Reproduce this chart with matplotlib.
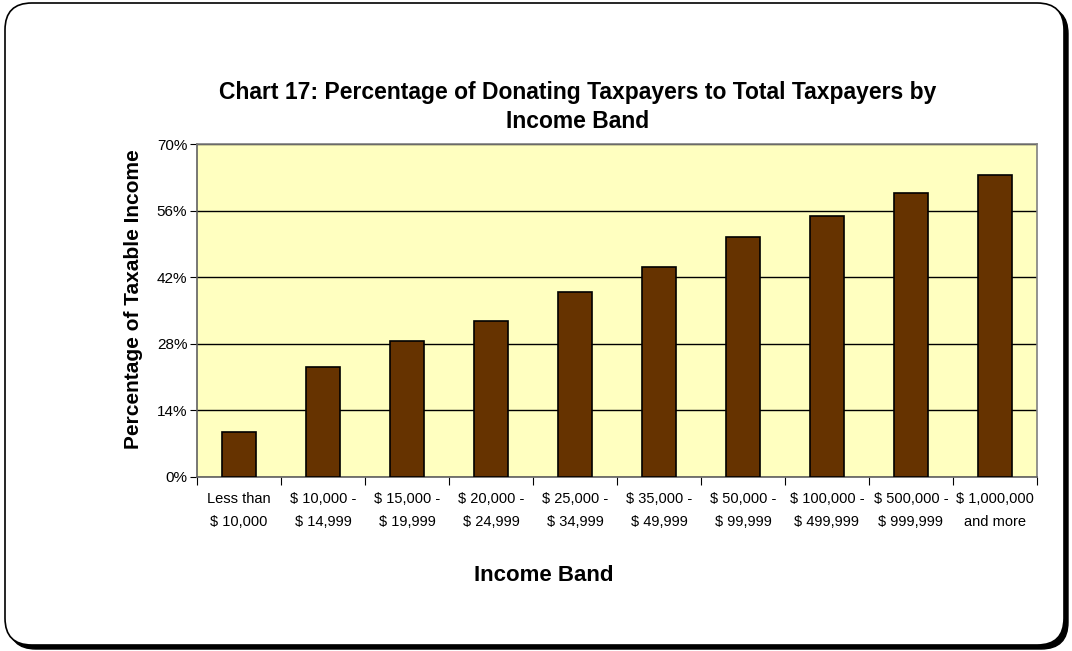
import matplotlib
matplotlib.use("Agg")
import matplotlib.pyplot as plt
from matplotlib.patches import FancyBboxPatch
from matplotlib.ticker import FixedLocator, NullFormatter

plt.rcParams['font.family'] = ['Liberation Sans', 'DejaVu Sans']

bands = ["Less than\n$ 10,000", "$ 10,000 -\n$ 14,999", "$ 15,000 -\n$ 19,999",
         "$ 20,000 -\n$ 24,999", "$ 25,000 -\n$ 34,999", "$ 35,000 -\n$ 49,999",
         "$ 50,000 -\n$ 99,999", "$ 100,000 -\n$ 499,999", "$ 500,000 -\n$ 999,999",
         "$ 1,000,000\nand more"]
pct_donating = [9.4, 23.1, 28.6, 32.8, 38.9, 44.1, 50.4, 54.9, 59.8, 63.4]
y_ticks = [0, 14, 28, 42, 56, 70]

W, H = 1072, 651
fig = plt.figure(figsize=(W / 100, H / 100), dpi=100)

# rounded frame with a drop shadow
box = dict(boxstyle="round,pad=0,rounding_size=0.025",
           transform=fig.transFigure, mutation_aspect=W / H)
shadow = FancyBboxPatch((9 / W, 2 / H), 1059 / W, 642 / H,
                        facecolor="black", edgecolor="black", linewidth=1,
                        zorder=0, **box)
frame = FancyBboxPatch((5 / W, 6 / H), 1059 / W, 642 / H,
                       facecolor="white", edgecolor="black", linewidth=1.2,
                       zorder=0.5, **box)
fig.patches.extend([shadow, frame])

ax = fig.add_axes([197 / W, 1 - 477 / H, 840 / W, 333 / H])
ax.set_facecolor("#FFFFC0")
ax.set_zorder(2)

x = list(range(len(bands)))
ax.bar(x, pct_donating, width=0.41, color="#663300", edgecolor="black",
       linewidth=1.2, zorder=3)

ax.set_xlim(-0.5, len(bands) - 0.5)
ax.set_ylim(0, 70)
ax.set_yticks(y_ticks)
ax.set_yticklabels([f"{v}%" for v in y_ticks], fontsize=11)
ax.yaxis.grid(True, color="black", linewidth=1, zorder=1)
ax.set_axisbelow(True)

ax.xaxis.set_major_locator(FixedLocator([i - 0.5 for i in range(len(bands) + 1)]))
ax.xaxis.set_major_formatter(NullFormatter())
ax.xaxis.set_minor_locator(FixedLocator(x))
ax.set_xticklabels(bands, minor=True, fontsize=10.5, linespacing=1.75)
ax.tick_params(axis="x", which="minor", length=0, pad=11)
ax.tick_params(axis="x", which="major", length=6, color="black", direction="out")
ax.tick_params(axis="y", length=5, color="black", direction="out", pad=2)

for side in ("top", "right"):
    ax.spines[side].set_color("#808080")
    ax.spines[side].set_linewidth(1.2)
for side in ("left", "bottom"):
    ax.spines[side].set_color("#606060")
    ax.spines[side].set_linewidth(1.2)

ax.set_ylabel("Percentage of Taxable Income", fontsize=15, fontweight="bold",
              va="center")
ax.yaxis.set_label_coords(-0.076, 0.535)
ax.set_xlabel("Income Band", fontsize=16, fontweight="bold", va="center")
ax.xaxis.set_label_coords(0.413, -0.297)

fig.text(578 / W, 1 - 107 / H,
         "Chart 17: Percentage of Donating Taxpayers to Total Taxpayers by\nIncome Band",
         ha="center", va="center", fontsize=16.5, fontweight="bold", linespacing=1.3)

fig.savefig("out.png", dpi=100)
